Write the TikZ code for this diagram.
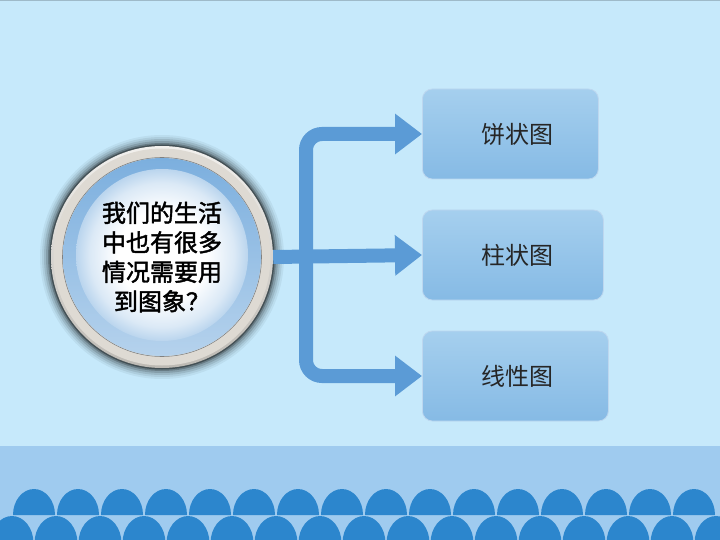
\documentclass[tikz,border=0pt]{standalone}
\usepackage{fontspec}
\newfontfamily\cjk{Noto Sans CJK SC}
\newfontfamily\cjkgr[FakeBold=1.8]{Noto Sans CJK SC}
\usetikzlibrary{arrows.meta}

\definecolor{cielo}{HTML}{C6E9FB}
\definecolor{fascia}{HTML}{9FCBEF}
\definecolor{onda}{HTML}{2C86CD}
\definecolor{freccia}{HTML}{5B9BD6}
\definecolor{grigio}{HTML}{DEDAD3}
\pgfdeclareradialshading{disco}{\pgfpoint{0bp}{0bp}}{%
  color(0bp)=(white); color(13bp)=(white);
  color(21bp)=(freccia!22!white); color(25bp)=(freccia!42!white);
  color(50bp)=(freccia!42!white)}

\begin{document}
\begin{tikzpicture}[
    x=1pt, y=-1pt,
    casella/.style={draw=freccia!40!white, line width=0.8pt,
      top color=freccia!40!cielo!90!white, bottom color=freccia!60!cielo,
      rounded corners=10pt, minimum height=90pt, anchor=west,
      font=\cjk\fontsize{24}{28}\selectfont, text=black!85},
    linea/.style={freccia, line width=14pt, rounded corners=16pt,
      -{Triangle[length=27pt, width=39pt]}},
  ]
  \useasboundingbox (0,0) rectangle (720,540);

  % --- sfondo -----------------------------------------------------------
  \fill[cielo] (0,0) rectangle (720,446);
  \draw[cielo!80!black, line width=1pt] (0,1) -- (720,1);
  \fill[fascia] (0,446) rectangle (720,540);

  % --- onde in basso ----------------------------------------------------
  \begin{scope}
    \clip (0,446) rectangle (720,540);
    \foreach \i in {0,...,15}{%
      \fill[onda] ({34+44*\i-21},515) arc[start angle=180, end angle=360,
        x radius=21, y radius=26] -- cycle;
    }
    \foreach \i in {0,...,16}{%
      \fill[onda] ({12+44*\i-21.5},543) arc[start angle=180, end angle=360,
        x radius=21.5, y radius=27] -- cycle;
    }
  \end{scope}

  % --- il cerchio con la domanda -----------------------------------------
  \coordinate (c) at (162,257);
  \foreach \r/\o in {122/0.05,120/0.07,118/0.1,116/0.14,114/0.22,112.5/0.35}{%
    \fill[black, opacity=\o] (c) circle[radius=\r];
  }
  \shade[top color=grigio!40!white, bottom color=grigio!85!black]
    (c) circle[radius=111];
  \fill[grigio] (c) circle[radius=108.5];
  \draw[black!50, line width=0.6pt] (c) circle[radius=99.5];
  \shade[top color=freccia!80!white, bottom color=freccia!45!white]
    (c) circle[radius=99];
  \shade[shading=disco] (162,255) circle[radius=86];
  \node[circle, minimum size=222pt, align=center,
    font=\cjkgr\fontsize{24}{29.5}\selectfont] (q) at (c)
    {我们的生活\\中也有很多\\情况需要用\\到图象？};

  % --- i tre tipi di grafico ----------------------------------------------
  \node[casella, minimum width=176pt] (b1) at (422,134) {\hspace*{14pt}饼状图};
  \node[casella, minimum width=181pt] (b2) at (422,255) {\hspace*{9pt}柱状图};
  \node[casella, minimum width=186pt] (b3) at (422,376) {\hspace*{4pt}线性图};

  % --- frecce -----------------------------------------------------------
  \coordinate (bivio) at (306,255);
  \draw[linea] (bivio) |- (b1.west);
  \draw[linea] (bivio) |- (b3.west);
  \draw[linea] (q.east) -- (b2.west);

\end{tikzpicture}
\end{document}
